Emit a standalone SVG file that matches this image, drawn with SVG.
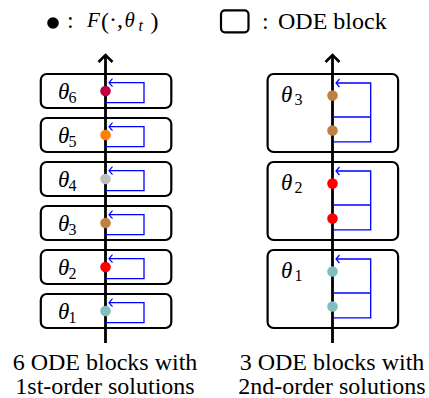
<svg xmlns="http://www.w3.org/2000/svg" width="429" height="398" viewBox="0 0 429 398">
<defs>
<style>
.box{fill:none;stroke:#000;stroke-width:2.2}
.axis{fill:none;stroke:#000;stroke-width:2.8}
.loop{fill:none;stroke:#0000ff;stroke-width:1.3}
text{font-family:'Liberation Serif','Times New Roman','DejaVu Serif',serif;fill:#000}
.th{font-style:italic;font-size:23px}
.sub{font-size:16px}
.cap{font-size:24px;text-anchor:middle}
.leg{font-size:24px}
</style>
<marker id="bk" markerUnits="userSpaceOnUse" markerWidth="20" markerHeight="20" viewBox="-10 -10 20 20" refX="0" refY="0" orient="auto">
<path d="M-7,-7 L0,0 L-7,7" fill="none" stroke="#000" stroke-width="2.6"/>
</marker>
<marker id="bl" markerUnits="userSpaceOnUse" markerWidth="10" markerHeight="10" viewBox="-5 -5 10 10" refX="0" refY="0" orient="auto">
<path d="M-3.5,-4 L0,0 L-3.5,4" fill="none" stroke="#0000ff" stroke-width="1.2"/>
</marker>
</defs>
<rect width="429" height="398" fill="#fff"/>

<g id="legend">
<circle cx="53" cy="23" r="5.8" fill="#000"/>
<text class="leg" x="67" y="28">:</text>
<text class="th" x="87" y="27" style="font-size:21px">F</text>
<text class="leg" x="101" y="28.5">(</text>
<text class="leg" x="109" y="27">·</text>
<text class="leg" x="117" y="27">,</text>
<text class="th" x="124.5" y="27" style="font-size:21px">θ</text>
<text class="th" x="138.5" y="31" style="font-size:16px">t</text>
<text class="leg" x="150.5" y="28.5">)</text>
<rect x="221" y="10.3" width="27.5" height="22" rx="4" class="box"/>
<text class="leg" x="262" y="29">:</text>
<text class="leg" x="278" y="29">ODE block</text>
</g>

<g id="connectors">
<line class="axis" x1="105.5" y1="343" x2="105.5" y2="55" marker-end="url(#bk)"/>
<line class="axis" x1="332.5" y1="343" x2="332.5" y2="55" marker-end="url(#bk)"/>
<path class="loop" d="M106,102.7 H144 V82.7 H109" marker-end="url(#bl)"/>
<path class="loop" d="M106,146.7 H144 V126.7 H109" marker-end="url(#bl)"/>
<path class="loop" d="M106,190.7 H144 V170.7 H109" marker-end="url(#bl)"/>
<path class="loop" d="M106,234.7 H144 V214.7 H109" marker-end="url(#bl)"/>
<path class="loop" d="M106,278.7 H144 V258.7 H109" marker-end="url(#bl)"/>
<path class="loop" d="M106,322.7 H144 V302.7 H109" marker-end="url(#bl)"/>
<path class="loop" d="M333,141.8 H370.7 V83 H336" marker-end="url(#bl)"/>
<path class="loop" d="M333,117 H370.7"/>
<path class="loop" d="M333,229.8 H370.7 V171 H336" marker-end="url(#bl)"/>
<path class="loop" d="M333,205 H370.7"/>
<path class="loop" d="M333,317.8 H370.7 V259 H336" marker-end="url(#bl)"/>
<path class="loop" d="M333,293 H370.7"/>
</g>

<g id="left-block-6">
<rect class="box" x="40.8" y="74" width="130.5" height="34" rx="6"/>
<text class="th" x="58" y="99">θ</text><text class="sub" x="68.5" y="102.5">6</text>
<circle cx="105.5" cy="91" r="5.3" fill="#bf0040"/>
</g>
<g id="left-block-5">
<rect class="box" x="40.8" y="118" width="130.5" height="34" rx="6"/>
<text class="th" x="58" y="143">θ</text><text class="sub" x="68.5" y="146.5">5</text>
<circle cx="105.5" cy="135" r="5.3" fill="#ff8000"/>
</g>
<g id="left-block-4">
<rect class="box" x="40.8" y="162" width="130.5" height="34" rx="6"/>
<text class="th" x="58" y="187">θ</text><text class="sub" x="68.5" y="190.5">4</text>
<circle cx="105.5" cy="179" r="5.3" fill="#bfbfbf"/>
</g>
<g id="left-block-3">
<rect class="box" x="40.8" y="206" width="130.5" height="34" rx="6"/>
<text class="th" x="58" y="231">θ</text><text class="sub" x="68.5" y="234.5">3</text>
<circle cx="105.5" cy="223" r="5.3" fill="#bf8040"/>
</g>
<g id="left-block-2">
<rect class="box" x="40.8" y="250" width="130.5" height="34" rx="6"/>
<text class="th" x="58" y="275">θ</text><text class="sub" x="68.5" y="278.5">2</text>
<circle cx="105.5" cy="267" r="5.3" fill="#ff0000"/>
</g>
<g id="left-block-1">
<rect class="box" x="40.8" y="294" width="130.5" height="34" rx="6"/>
<text class="th" x="58" y="319">θ</text><text class="sub" x="68.5" y="322.5">1</text>
<circle cx="105.5" cy="311" r="5.3" fill="#80bfbf"/>
</g>

<g id="right-block-3">
<rect class="box" x="267.6" y="74" width="130.5" height="78" rx="6"/>
<text class="th" x="281" y="101.5">θ</text><text class="sub" x="294.5" y="105">3</text>
<circle cx="332.5" cy="95.5" r="5.3" fill="#bf8040"/>
<circle cx="332.5" cy="130.5" r="5.3" fill="#bf8040"/>
</g>
<g id="right-block-2">
<rect class="box" x="267.6" y="162" width="130.5" height="78" rx="6"/>
<text class="th" x="281" y="189.5">θ</text><text class="sub" x="294.5" y="193">2</text>
<circle cx="332.5" cy="183.5" r="5.3" fill="#ff0000"/>
<circle cx="332.5" cy="218.5" r="5.3" fill="#ff0000"/>
</g>
<g id="right-block-1">
<rect class="box" x="267.6" y="250" width="130.5" height="78" rx="6"/>
<text class="th" x="281" y="277.5">θ</text><text class="sub" x="294.5" y="281">1</text>
<circle cx="332.5" cy="271.5" r="5.3" fill="#80bfbf"/>
<circle cx="332.5" cy="306.5" r="5.3" fill="#80bfbf"/>
</g>

<g id="captions">
<text class="cap" x="105" y="370">6 ODE blocks with</text>
<text class="cap" x="105" y="394">1st-order solutions</text>
<text class="cap" x="332" y="370">3 ODE blocks with</text>
<text class="cap" x="332" y="394">2nd-order solutions</text>
</g>
</svg>
